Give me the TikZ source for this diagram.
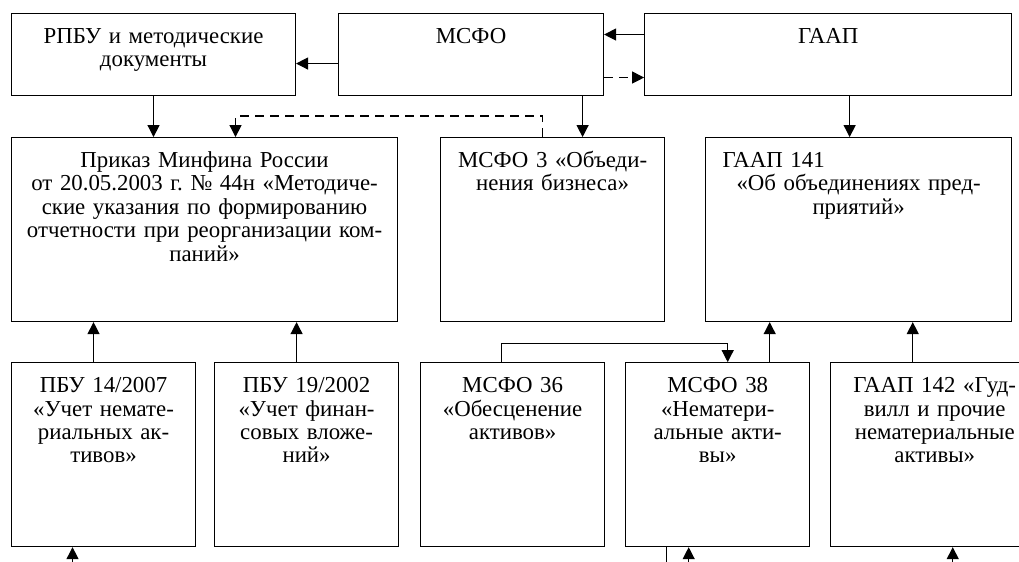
\documentclass[tikz,border=0pt]{standalone}
\usepackage{fontspec}
\setmainfont{Liberation Serif}
\usetikzlibrary{arrows.meta,positioning,calc}
\frenchspacing

\begin{document}
\begin{tikzpicture}[
    node distance=8mm and 8mm,
    box/.style={rectangle, draw=black, line width=0.6pt, inner sep=0pt, align=center, text height=6mm, font=\fontsize{13}{13.3}\selectfont},
    headbox/.style={box, text depth=10.4mm},
    docbox/.style={box, text depth=30.8mm},
    flow/.style={-{Triangle[length=2.4mm, width=2.4mm]}, line width=0.7pt},
    link/.style={line width=0.7pt},
    weak/.style={flow, dash pattern=on 1.8mm off 1.2mm}
]
\useasboundingbox (0,0) rectangle (20.38,-11.22);
\clip (0,0) rectangle (20.38,-11.22);

% standards
\node[headbox, text width=56.8mm, anchor=north west] (rpbu) at (0.22,-0.26) {РПБУ и методические\\документы};
\node[headbox, text width=53mm, right=8.4mm of rpbu] (msfo) {МСФО};
\node[headbox, text width=73.4mm, right=8mm of msfo] (gaap) {ГААП};

% business combinations
\node[docbox, text width=77.2mm, below=8.2mm of rpbu.south west, anchor=north west] (prikaz) {Приказ Минфина России\\от 20.05.2003 г. № 44н «Методиче-\\ские указания по формированию\\отчетности при реорганизации ком-\\паний»};
\node[docbox, text width=44.8mm, right=8.4mm of prikaz] (msfo3) {МСФО 3 «Объеди-\\нения бизнеса»};
\node[docbox, text width=61.2mm, right=8mm of msfo3] (gaap141) {\makebox[61.2mm][l]{\hspace{3.4mm}ГААП 141}\\«Об объединениях пред-\\приятий»};

% intangibles
\node[docbox, text width=36.8mm, below=8mm of prikaz.south west, anchor=north west] (pbu14) {ПБУ 14/2007\\«Учет немате-\\риальных ак-\\тивов»};
\node[docbox, text width=36.8mm, right=3.6mm of pbu14] (pbu19) {ПБУ 19/2002\\«Учет финан-\\совых вложе-\\ний»};
\node[docbox, text width=36.8mm, right=4.2mm of pbu19] (msfo36) {МСФО 36\\«Обесценение\\активов»};
\node[docbox, text width=36.8mm, right=4mm of msfo36] (msfo38) {МСФО 38\\«Нематери-\\альные акти-\\вы»};
\node[docbox, text width=41.6mm, right=4mm of msfo38] (gaap142) {ГААП 142 «Гуд-\\вилл и прочие\\нематериальные\\активы»};

\coordinate (m3in) at ([xshift=6mm]msfo3.north);
\coordinate (m3out) at ([xshift=-2mm]msfo3.north);
\coordinate (prin) at ([xshift=6.2mm]prikaz.north);
\coordinate (g141in) at ([xshift=-1.8mm]gaap141.north);
\coordinate (p14out) at ([xshift=-2mm]pbu14.north);
\coordinate (p19out) at ([xshift=-2mm]pbu19.north);
\coordinate (m36out) at ([xshift=-2.2mm]msfo36.north);
\coordinate (m38in) at ([xshift=2mm]msfo38.north);
\coordinate (m38out) at ([xshift=10.4mm]msfo38.north);
\coordinate (g142out) at ([xshift=-4.4mm]gaap142.north);

% links further down
\coordinate (p14low) at ([xshift=-6.2mm, yshift=-10mm]pbu14.south);
\coordinate (m38low) at ([xshift=-10.2mm, yshift=-10mm]msfo38.south);
\coordinate (m38up) at ([xshift=-5.8mm, yshift=-10mm]msfo38.south);
\coordinate (g142low) at ([xshift=3.6mm, yshift=-10mm]gaap142.south);

\draw[flow] ([yshift=-1.8mm]msfo.west) -- ([yshift=-1.8mm]rpbu.east);
\draw[flow] ([yshift=4mm]gaap.west) -- ([yshift=4mm]msfo.east);
\draw[weak] ([yshift=-4.6mm]msfo.east) -- ([yshift=-4.6mm]gaap.west);

\draw[flow] (rpbu.south) -- (rpbu.south |- prikaz.north);
\draw[flow] (msfo.south -| m3in) -- (m3in);
\draw[flow] (gaap.south -| g141in) -- (g141in);
\draw[weak] (m3out) -- ++(0,4.2mm) -| (prin);

\draw[flow] (p14out) -- (p14out |- prikaz.south);
\draw[flow] (p19out) -- (p19out |- prikaz.south);
\draw[flow] (m36out) -- ++(0,3.8mm) -| (m38in);
\draw[flow] (m38out) -- (m38out |- gaap141.south);
\draw[flow] (g142out) -- (g142out |- gaap141.south);

\draw[flow] (p14low) -- (p14low |- pbu14.south);
\draw[link] (m38low |- msfo38.south) -- (m38low);
\draw[flow] (m38up) -- (m38up |- msfo38.south);
\draw[flow] (g142low) -- (g142low |- gaap142.south);

\end{tikzpicture}
\end{document}
